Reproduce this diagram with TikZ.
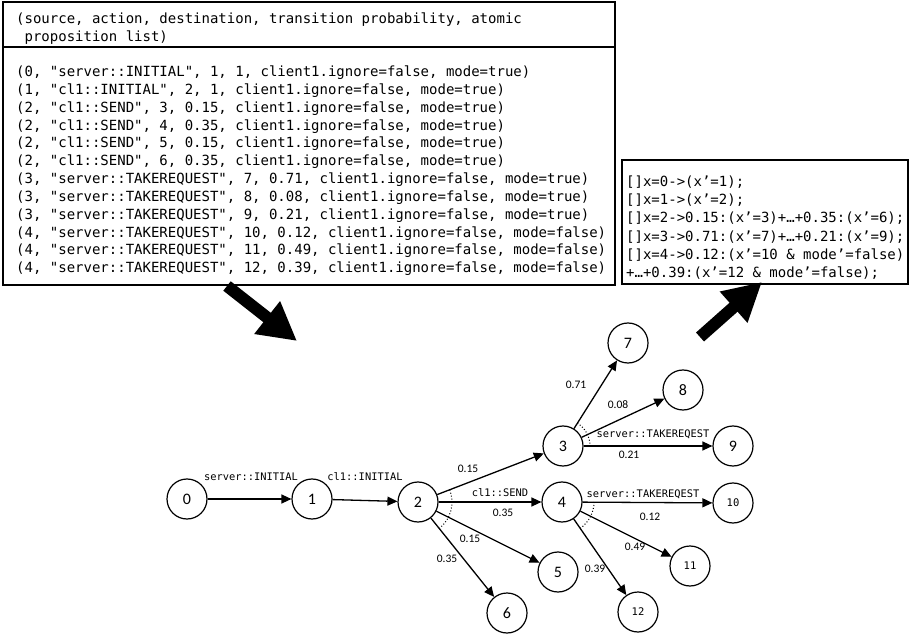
\documentclass[tikz,border=0pt]{standalone}
\usepackage{fontspec}
\setmainfont{Carlito}
\newfontfamily\codefont{DejaVu Sans Mono}
\usetikzlibrary{arrows.meta}
\begin{document}
\begin{tikzpicture}[x=1pt,y=1pt,
  state/.style={circle,draw,line width=1.2pt,minimum size=40pt,inner sep=0pt,font=\fontsize{16}{18}\selectfont},
  smallstate/.style={state,font=\codefont\fontsize{10.5}{12}\selectfont},
  trans/.style={line width=1.3pt,-{Triangle[length=10pt,width=9pt]}},
  bigarrow/.style={line width=12pt,-{Triangle[length=38pt,width=39pt]}},
  prob/.style={font=\fontsize{11.5}{13}\selectfont,inner sep=0pt},
  act/.style={font=\codefont\fontsize{10.4}{12}\selectfont,inner sep=0pt},
  code/.style={font=\codefont\fontsize{14}{17}\selectfont,inner sep=0pt,anchor=base west},
  box/.style={draw,line width=1.5pt},
  sector/.style={dotted,line width=1pt}
]
\useasboundingbox (0,0) rectangle (910,635);
% main table box
\draw[box] (3,633) rectangle (615,350);
\draw[box] (3,588) -- (615,588);
\node[code] (h1) at (16,611) {(source, action, destination, transition probability, atomic};
\node[code] (h2) at (16,593) {\ proposition list)};
\foreach \t [count=\i] in {
 {(0, "server::INITIAL", 1, 1, client1.ignore=false, mode=true)},
 {(1, "cl1::INITIAL", 2, 1, client1.ignore=false, mode=true)},
 {(2, "cl1::SEND", 3, 0.15, client1.ignore=false, mode=true)},
 {(2, "cl1::SEND", 4, 0.35, client1.ignore=false, mode=true)},
 {(2, "cl1::SEND", 5, 0.15, client1.ignore=false, mode=true)},
 {(2, "cl1::SEND", 6, 0.35, client1.ignore=false, mode=true)},
 {(3, "server::TAKEREQUEST", 7, 0.71, client1.ignore=false, mode=true)},
 {(3, "server::TAKEREQUEST", 8, 0.08, client1.ignore=false, mode=true)},
 {(3, "server::TAKEREQUEST", 9, 0.21, client1.ignore=false, mode=true)},
 {(4, "server::TAKEREQUEST", 10, 0.12, client1.ignore=false, mode=false)},
 {(4, "server::TAKEREQUEST", 11, 0.49, client1.ignore=false, mode=false)},
 {(4, "server::TAKEREQUEST", 12, 0.39, client1.ignore=false, mode=false)}}
 \node[code] (t\i) at (16,576.35-17.85*\i) {\t};
% right box
\draw[box] (622,475) rectangle (908,351);
\foreach \t [count=\i] in {
 {[]x=0->(x’=1);},
 {[]x=1->(x’=2);},
 {[]x=2->0.15:(x’=3)+…+0.35:(x’=6);},
 {[]x=3->0.71:(x’=7)+…+0.21:(x’=9);},
 {[]x=4->0.12:(x’=10 \& mode’=false)},
 {+…+0.39:(x’=12 \& mode’=false);}}
 \node[code] (r\i) at (626,466.7-18.2*\i) {\t};
% big arrows
\coordinate (la) at (227,349);
\coordinate (lb) at (297,294);
\coordinate (ra) at (700,298);
\coordinate (rb) at (762,353);
\draw[bigarrow] (la) -- (lb);
\draw[bigarrow] (ra) -- (rb);
% states
\node[state] (n0) at (187,136) {0};
\node[state] (n1) at (312,136) {1};
\node[state] (n2) at (418,133) {2};
\node[state] (n3) at (563,189) {3};
\node[state] (n4) at (562,133) {4};
\node[state] (n5) at (558,63) {5};
\node[state] (n6) at (507,22) {6};
\node[state] (n7) at (628,292) {7};
\node[state] (n8) at (683,245) {8};
\node[state] (n9) at (733,189) {9};
\node[smallstate] (n10) at (733,132) {10};
\node[smallstate] (n11) at (690,69) {11};
\node[smallstate] (n12) at (638,23) {12};
% transitions
\draw[trans] (n0) -- (n1);
\draw[trans] (n1) -- (n2);
\draw[trans] (n2) -- (n3);
\draw[trans] (n2) -- (n4);
\draw[trans] (n2) -- (n5);
\draw[trans] (n2) -- (n6);
\draw[trans] (n3) -- (n7);
\draw[trans] (n3) -- (n8);
\draw[trans] (n3) -- (n9);
\draw[trans] (n4) -- (n10);
\draw[trans] (n4) -- (n11);
\draw[trans] (n4) -- (n12);
% dotted sectors
\draw[sector] ([shift={(21:34)}]n2.center) arc[start angle=21,end angle=-51,radius=34];
\draw[sector] ([shift={(58:27)}]n3.center) arc[start angle=58,end angle=2,radius=27];
\draw[sector] ([shift={(0:32)}]n4.center) arc[start angle=0,end angle=-55,radius=32];
% labels
\node[act] (a01) at (251,158) {server::INITIAL};
\node[act] (a12) at (365,158) {cl1::INITIAL};
\node[act] (a24) at (500,142) {cl1::SEND};
\node[act] (a4) at (643,141) {server::TAKEREQEST};
\node[act] (a3) at (653,201) {server::TAKEREQEST};
\node[prob] (p23) at (468,166) {0.15};
\node[prob] (p24) at (503,122) {0.35};
\node[prob] (p25) at (470,96) {0.15};
\node[prob] (p26) at (447,76) {0.35};
\node[prob] (p410) at (650,118) {0.12};
\node[prob] (p411) at (635,88) {0.49};
\node[prob] (p412) at (595,66) {0.39};
\node[prob] (p37) at (576,250) {0.71};
\node[prob] (p38) at (618,230) {0.08};
\node[prob] (p39) at (629,180) {0.21};
\end{tikzpicture}
\end{document}
